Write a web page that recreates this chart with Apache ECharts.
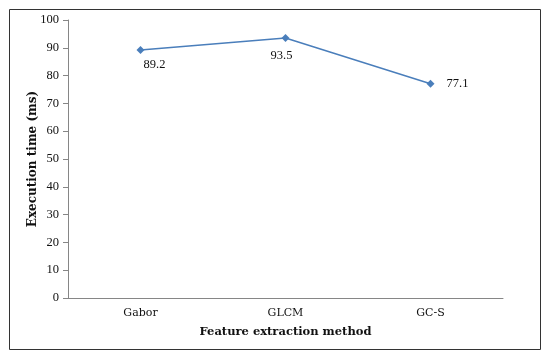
<!DOCTYPE html>
<html><head><meta charset="utf-8">
<script src="https://cdn.jsdelivr.net/npm/echarts@6/dist/echarts.min.js"></script>
<style>html,body{margin:0;padding:0;background:#fff}#c{width:550px;height:360px}</style>
</head><body><div id="c"></div>
<script>
const categories = ['Gabor', 'GLCM', 'GC-S'];
const values = [89.2, 93.5, 77.1];
const labelPositions = [[14, 15], [-4, 18], [27, 0]];
const yTicks = {min: 0, max: 100, interval: 10};

const chart = echarts.init(document.getElementById('c'));
const serif = '"Liberation Serif", "DejaVu Serif", serif';
const wide = '"DejaVu Serif", serif';
chart.setOption({
  animation: false,
  backgroundColor: '#fff',
  graphic: [{type: 'rect', shape: {x: 9.5, y: 9.5, width: 531, height: 340}, style: {fill: 'none', stroke: '#333', lineWidth: 1}}],
  grid: {left: 68, right: 47, top: 20, bottom: 62},
  xAxis: {
    type: 'category', data: categories, boundaryGap: true,
    axisLine: {lineStyle: {color: '#868686'}},
    axisTick: {alignWithLabel: true, length: 5, lineStyle: {color: '#868686'}},
    axisLabel: {color: '#111', fontFamily: wide, fontSize: 11, margin: 10},
    name: 'Feature extraction method', nameLocation: 'middle', nameGap: 28, nameMoveOverlap: false,
    nameTextStyle: {color: '#111', fontFamily: wide, fontSize: 11.5, fontWeight: 'bold'}
  },
  yAxis: {
    type: 'value', min: yTicks.min, max: yTicks.max, interval: yTicks.interval,
    splitLine: {show: false},
    axisLine: {show: true, lineStyle: {color: '#868686'}},
    axisTick: {show: true, length: 5, lineStyle: {color: '#868686'}},
    axisLabel: {color: '#111', fontFamily: serif, fontSize: 12.5, margin: 9},
    name: 'Execution time (ms)', nameLocation: 'middle', nameGap: 29, nameRotate: 90, nameMoveOverlap: false,
    nameTextStyle: {color: '#111', fontFamily: wide, fontSize: 12, fontWeight: 'bold'}
  },
  series: [{
    type: 'line', symbol: 'diamond', symbolSize: 8,
    lineStyle: {color: '#4a7ebb', width: 1.5},
    itemStyle: {color: '#4a7ebb'},
    data: values.map((v, i) => ({value: v, label: {show: true, position: 'inside', offset: labelPositions[i]}})),
    label: {color: '#111', fontFamily: serif, fontSize: 12.5}
  }]
});
</script></body></html>
